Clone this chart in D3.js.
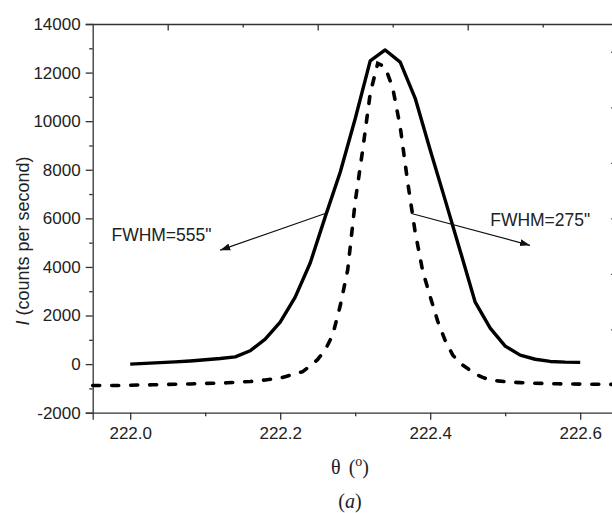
<!DOCTYPE html>
<html>
<head>
<meta charset="UTF-8">
<title>Rocking curve</title>
<script src="https://d3js.org/d3.v7.min.js"></script>
<style>
  body { margin: 0; background: #fff; }
  svg { display: block; }
  .tick text { font-family: 'Liberation Sans', Arial, sans-serif; font-size: 17px; fill: #222; }
  .axis path, .axis line { stroke: #333; stroke-width: 1.3; }
</style>
</head>
<body>
<div id="chart"></div>
<script>
// solid curve: theta (deg) and intensity on left axis
const solidTheta = [222.00, 222.02, 222.04, 222.06, 222.08, 222.10, 222.12, 222.14, 222.16, 222.18,
                    222.20, 222.22, 222.24, 222.26, 222.28, 222.30, 222.32, 222.34, 222.36, 222.38,
                    222.40, 222.42, 222.44, 222.46, 222.48, 222.50, 222.52, 222.54, 222.56, 222.58, 222.60];
const solidI = [0, 30, 60, 90, 130, 180, 230, 300, 550, 1030,
                1730, 2760, 4160, 6060, 7900, 10100, 12480, 12930, 12430, 10940,
                8810, 6750, 4660, 2550, 1480, 740, 370, 200, 110, 80, 70];

// dashed curve: plotted against the right-hand axis
const dashTheta = [221.95, 221.96, 221.97, 221.98, 221.99, 222.00, 222.01, 222.02, 222.03, 222.04,
                   222.05, 222.06, 222.07, 222.08, 222.09, 222.10, 222.11, 222.12, 222.13, 222.14,
                   222.15, 222.16, 222.17, 222.18, 222.19, 222.20, 222.21, 222.22, 222.23, 222.24,
                   222.25, 222.26, 222.27, 222.28, 222.29, 222.30, 222.31, 222.32, 222.33, 222.34,
                   222.35, 222.36, 222.37, 222.38, 222.39, 222.40, 222.41, 222.42, 222.43, 222.44,
                   222.45, 222.46, 222.47, 222.48, 222.49, 222.50, 222.51, 222.52, 222.53, 222.54,
                   222.55, 222.56, 222.57, 222.58, 222.59, 222.60, 222.61, 222.62, 222.63, 222.64, 222.65];
const dashI = [-20, -20, -20, -20, -15, -10, 0, 0, 5, 10,
               20, 25, 30, 35, 45, 55, 60, 65, 80, 95,
               110, 125, 150, 180, 215, 250, 325, 400, 480, 685,
               920, 1260, 1800, 2850, 4140, 6600, 8470, 10500, 11580, 11450,
               10700, 9300, 7300, 5500, 4100, 3180, 2300, 1600, 1080, 780,
               590, 395, 270, 180, 145, 120, 97, 83, 72, 60,
               55, 47, 42, 36, 34, 30, 28, 25, 23, 20, 20];

const leftMajor = [-2000, 0, 2000, 4000, 6000, 8000, 10000, 12000, 14000];
const leftMinor = [-1000, 1000, 3000, 5000, 7000, 9000, 11000, 13000];
const bottomMajor = [222.0, 222.2, 222.4, 222.6];
const bottomMinor = [222.1, 222.3, 222.5];
const topMajor = [222.05, 222.25, 222.45, 222.65];
const topMinor = [222.15, 222.35, 222.55];
const rightTicks = [0, 2000, 4000, 6000, 8000, 10000, 12000];

const W = 612, H = 513;
const plot = { left: 92.7, right: 617.7, top: 24, bottom: 412.7 };

const svg = d3.select('#chart').append('svg').attr('width', W).attr('height', H);

const x = d3.scaleLinear().domain([221.95, 222.65]).range([plot.left, plot.right]);
const yL = d3.scaleLinear().domain([-2000, 14000]).range([plot.bottom, plot.top]);
const yR = d3.scaleLinear().domain([-1000, 13000]).range([plot.bottom, plot.top]);

// axes
function ax(gen, tx, ty) {
  const g = svg.append('g').attr('class', 'axis').attr('transform', `translate(${tx},${ty})`).call(gen);
  return g;
}
ax(d3.axisLeft(yL).tickValues(leftMajor).tickSize(7).tickPadding(5).tickFormat(d => String(d)), plot.left, 0);
ax(d3.axisLeft(yL).tickValues(leftMinor).tickSize(3.5).tickFormat(''), plot.left, 0).select('.domain').remove();
ax(d3.axisBottom(x).tickValues(bottomMajor).tickSize(7).tickPadding(7).tickFormat(d3.format('.1f')), 0, plot.bottom);
ax(d3.axisBottom(x).tickValues(bottomMinor).tickSize(3.5).tickFormat(''), 0, plot.bottom).select('.domain').remove();
ax(d3.axisTop(x).tickValues(topMajor).tickSizeInner(-6.5).tickSizeOuter(0).tickFormat(''), 0, plot.top);
ax(d3.axisTop(x).tickValues(topMinor).tickSizeInner(-3.5).tickSizeOuter(0).tickFormat(''), 0, plot.top).select('.domain').remove();
ax(d3.axisRight(yR).tickValues(rightTicks).tickSizeInner(-6.5).tickSizeOuter(0).tickFormat(''), plot.right, 0);

// curves
const solid = solidTheta.map((t, i) => [t, solidI[i]]);
const dashed = dashTheta.map((t, i) => [t, dashI[i]]);

svg.append('path').datum(dashed)
  .attr('fill', 'none').attr('stroke', '#000').attr('stroke-width', 3.6)
  .attr('stroke-linecap', 'round').attr('stroke-dasharray', '7,12')
  .attr('d', d3.line().x(d => x(d[0])).y(d => yR(d[1])));

svg.append('path').datum(solid)
  .attr('fill', 'none').attr('stroke', '#000').attr('stroke-width', 3.4)
  .attr('stroke-linejoin', 'round')
  .attr('d', d3.line().x(d => x(d[0])).y(d => yL(d[1])));

// annotations (data coords)
svg.append('defs').append('marker')
  .attr('id', 'arr').attr('viewBox', '0 0 10 10').attr('refX', 10).attr('refY', 5)
  .attr('markerWidth', 10).attr('markerHeight', 10).attr('markerUnits', 'userSpaceOnUse')
  .attr('orient', 'auto')
  .append('path').attr('d', 'M0,1.5 L10,5 L0,8.5 Z').attr('fill', '#111');

const arrows = [
  { from: [222.26, 6200], to: [222.12, 4690] },
  { from: [222.375, 6200], to: [222.533, 4890] }
];
arrows.forEach(a => {
  svg.append('line')
    .attr('x1', x(a.from[0])).attr('y1', yL(a.from[1]))
    .attr('x2', x(a.to[0])).attr('y2', yL(a.to[1]))
    .attr('stroke', '#111').attr('stroke-width', 1.2)
    .attr('marker-end', 'url(#arr)');
});

const labels = [
  { text: 'FWHM=555"', at: [221.975, 5075] },
  { text: 'FWHM=275"', at: [222.48, 5680] }
];
labels.forEach(l => {
  svg.append('text')
    .attr('x', x(l.at[0])).attr('y', yL(l.at[1]))
    .style('font-family', "'Liberation Sans', Arial, sans-serif")
    .style('font-size', '17.5px').style('fill', '#222')
    .text(l.text);
});

// axis titles
const yt = svg.append('text')
  .attr('transform', 'translate(29,241) rotate(-90)')
  .attr('text-anchor', 'middle')
  .style('font-family', "'Liberation Sans', Arial, sans-serif")
  .style('font-size', '18px').style('fill', '#222');
yt.append('tspan').style('font-style', 'italic').text('I');
yt.append('tspan').text(' (counts per second)');

const xt = svg.append('text')
  .attr('x', 350).attr('y', 474).attr('text-anchor', 'middle')
  .style('font-family', "'Liberation Serif', 'Times New Roman', serif")
  .style('font-size', '20px').style('fill', '#222');
xt.append('tspan').text('θ');
xt.append('tspan').attr('dx', 8).text('(');
xt.append('tspan').attr('dy', -8).style('font-size', '14px').text('o');
xt.append('tspan').attr('dy', 8).text(')');

svg.append('text')
  .attr('x', 350).attr('y', 508).attr('text-anchor', 'middle')
  .style('font-family', "'Liberation Serif', 'Times New Roman', serif")
  .style('font-size', '20px').style('fill', '#222')
  .html('(<tspan font-style="italic">a</tspan>)');
</script>
</body>
</html>
